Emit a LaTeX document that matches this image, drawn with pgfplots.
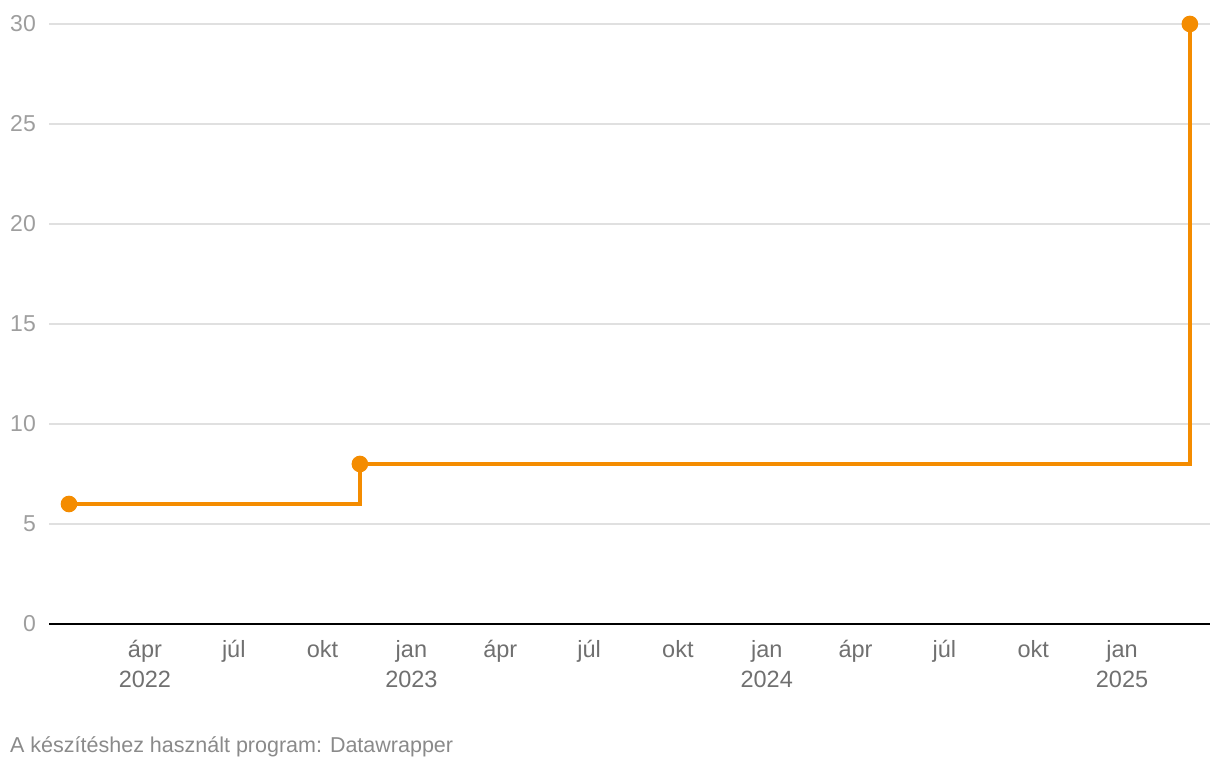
\documentclass[border=0pt]{standalone}
\usepackage{pgfplots}
\pgfplotsset{compat=1.18}
\usepackage{fontspec}
\setmainfont{Liberation Sans}
\definecolor{lineor}{RGB}{244,140,0}
\definecolor{gridc}{RGB}{224,224,224}
\definecolor{ylab}{RGB}{158,158,158}
\definecolor{xlab}{RGB}{112,112,112}
\definecolor{foot}{RGB}{138,138,138}
\begin{document}
\begin{tikzpicture}[x=1pt,y=1pt]
\path[use as bounding box] (0,0) rectangle (1220,770);
\begin{axis}[
  at={(49pt,146pt)}, anchor=south west,
  scale only axis, width=1161pt, height=600pt,
  xmin=-0.24, xmax=38.97, ymin=0, ymax=30,
  clip=false,
  axis line style={draw=none},
  major tick length=0pt,
  ytick={0,5,10,15,20,25,30},
  ymajorgrids, grid style={color=gridc, line width=1.6pt},
  xtick={3,6,9,12,15,18,21,24,27,30,33,36},
  xticklabels={ápr\\2022, júl, okt, jan\\2023, ápr, júl, okt, jan\\2024, ápr, júl, okt, jan\\2025},
  xticklabel style={align=center, font=\fontsize{23.5}{30}\selectfont, text=xlab, anchor=north, inner sep=0pt, yshift=-16pt},
  yticklabel style={font=\fontsize{23}{26}\selectfont, text=ylab, anchor=east, inner sep=0pt, xshift=-13pt},
  /pgf/number format/assume math mode=true,
]
\addplot[black, line width=2.4pt, no marks] coordinates {(-0.24,0) (38.97,0)};
\addplot[const plot, lineor, line width=3.6pt, mark=*, mark size=6.5pt, mark options={fill=lineor, draw=none}] coordinates {
  (0.435,6) (10.26,8) (38.29,30)
};
\end{axis}
\node[anchor=base west, inner sep=0pt, text=foot, font=\fontsize{21.5}{24}\selectfont] at (10,17) {A készítéshez használt program: Datawrapper};
\end{tikzpicture}
\end{document}
